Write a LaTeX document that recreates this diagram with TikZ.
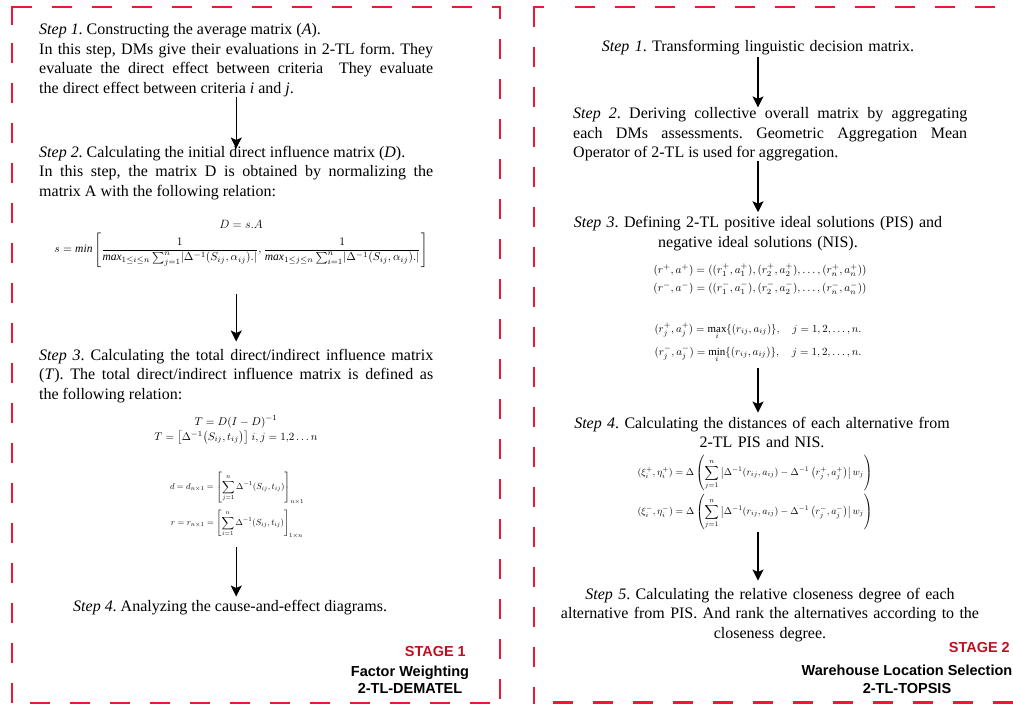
\documentclass[tikz,border=0pt]{standalone}
\usepackage{amsmath}
\usepackage{graphicx}
\usepackage{fontspec}
\setmainfont{Liberation Serif}
\setsansfont{Liberation Sans}
\usetikzlibrary{arrows.meta}
\definecolor{framered}{RGB}{236,24,52}
\definecolor{stagered}{RGB}{192,16,32}
\frenchspacing
\begin{document}
\begin{tikzpicture}[x=1pt,y=-1pt,
  txt/.style={inner sep=0pt, font=\fontsize{16}{19.5}\selectfont, text width=394pt, align=justify},
  ctxt/.style={inner sep=0pt, font=\fontsize{16}{19.5}\selectfont, text width=440pt, align=center},
  ltxt/.style={inner sep=0pt, font=\fontsize{16}{19.5}\selectfont},
  eq/.style={inner sep=0pt},
  flow/.style={-{Stealth[length=11pt,width=11pt,inset=2.5pt]}, line width=1.1pt},
  frame/.style={draw=framered, line width=2.8pt},
  dashes/.style={dash pattern=on 20pt off 20pt},
  stagelbl/.style={inner sep=0pt, font=\sffamily\bfseries\fontsize{14.5}{17}\selectfont, text=stagered},
  sublbl/.style={inner sep=0pt, font=\sffamily\bfseries\fontsize{14.5}{17}\selectfont}
]
\useasboundingbox (0,0) rectangle (1013,704);

% ---------- frames ----------
% left box
\draw[frame] (12,25) -- (12,7) -- (32,7);
\draw[frame,dashes] (52,7) -- (500,7) -- (500,703);
\draw[frame,dashes] (490,703) -- (12,703);
\draw[frame,dashes] (12,703) -- (12,27);
% right box
\draw[frame] (534,27) -- (534,7) -- (544,7);
\draw[frame,dashes] (575,7) -- (1020,7);
\draw[frame,dashes] (534,47) -- (534,704);
\draw[frame,dashes] (553,702.5) -- (1020,702.5);

% ---------- left panel ----------
\node[txt, anchor=base west] (l1) at (39,34.5) {\textit{Step 1}. Constructing the average matrix (\textit{A}).\\
In this step, DMs give their evaluations in 2-TL form. They\linebreak evaluate the direct effect between criteria~ They evaluate\linebreak the direct effect between criteria \textit{i} and \textit{j}.};

\node[txt, anchor=base west] (l2) at (39,157) {\textit{Step 2}. Calculating the initial direct influence matrix (\textit{D}).\\
In this step, the matrix D is obtained by normalizing the\linebreak matrix A with the following relation:};

\node[eq, anchor=base] (eqD) at (241,228) {\fontsize{12}{14}\selectfont $D = s.A$};
\node[eq] (eqs) at (241,250) {\resizebox{373pt}{!}{$\displaystyle s = \mathit{min}\left[\frac{1}{\mathit{max}_{1\le i\le n}\sum_{j=1}^{n}\lvert\Delta^{-1}(S_{ij},\alpha_{ij}).\rvert},\frac{1}{\mathit{max}_{1\le j\le n}\sum_{i=1}^{n}\lvert\Delta^{-1}(S_{ij},\alpha_{ij}).\rvert}\right]$}};

\node[txt, anchor=base west] (l3) at (39,360) {\textit{Step 3}. Calculating the total direct/indirect influence matrix\linebreak (\textit{T}). The total direct/indirect influence matrix is defined as\linebreak the following relation:};

\node[eq, anchor=base] (eqT1) at (236,425) {\resizebox{83pt}{!}{$T = D(I-D)^{-1}$}};
\node[eq, anchor=base] (eqT2) at (236,440) {\resizebox{163pt}{!}{$T = \bigl[\Delta^{-1}\bigl(S_{ij},t_{ij}\bigr)\bigr]\; i,j = 1{,}2\ldots n$}};

\node[eq] (eqd) at (237,488) {\resizebox{134pt}{!}{$\displaystyle d = d_{n\times 1} = \left[\sum_{j=1}^{n}\Delta^{-1}(S_{ij},t_{ij})\right]_{n\times 1}$}};
\node[eq] (eqr) at (237,524) {\resizebox{132pt}{!}{$\displaystyle r = r_{n\times 1} = \left[\sum_{i=1}^{n}\Delta^{-1}(S_{ij},t_{ij})\right]_{1\times n}$}};

\node[ltxt, anchor=base west] (l4) at (73,611.7) {\textit{Step 4}. Analyzing the cause-and-effect diagrams.};

\draw[flow, shorten >=-3pt] (l1.south) -- (l2.north);
\draw[flow, shorten <=27pt, shorten >=7pt] (l3.north |- eqs.south) -- (l3.north);
\draw[flow, shorten <=9pt, shorten >=3.7pt] (l3.south |- eqr.south) -- (l3.south |- l4.north);

\node[stagelbl, anchor=base east] (st1) at (466,656) {STAGE 1};
\node[sublbl, anchor=base] (fw) at (410,676) {Factor Weighting};
\node[sublbl, anchor=base] (dem) at (410,693) {2-TL-DEMATEL};

% ---------- right panel ----------
\node[ctxt, anchor=base] (r1) at (758,51) {\textit{Step 1}. Transforming linguistic decision matrix.};

\node[txt, anchor=base west] (r2) at (573,118.7) {\textit{Step 2}. Deriving collective overall matrix by aggregating\linebreak each DMs assessments. Geometric Aggregation Mean\linebreak Operator of 2-TL is used for aggregation.};

\node[ctxt, anchor=base] (r3) at (758,227.7) {\textit{Step 3}. Defining 2-TL positive ideal solutions (PIS) and\\ negative ideal solutions (NIS).};

\node[eq] (rp) at (760,270) {\resizebox{213pt}{!}{$(r^+,a^+) = ((r_1^+,a_1^+),(r_2^+,a_2^+),\ldots,(r_n^+,a_n^+))$}};
\node[eq] (rm) at (760,288) {\resizebox{213pt}{!}{$(r^-,a^-) = ((r_1^-,a_1^-),(r_2^-,a_2^-),\ldots,(r_n^-,a_n^-))$}};

\node[eq, anchor=base] (mx) at (758,332) {\resizebox{207pt}{!}{$(r_j^+,a_j^+) = \max\limits_{i}\{(r_{ij},a_{ij})\},\quad j=1,2,\ldots,n.$}};
\node[eq, anchor=base] (mn) at (758,355) {\resizebox{207pt}{!}{$(r_j^-,a_j^-) = \min\limits_{i}\{(r_{ij},a_{ij})\},\quad j=1,2,\ldots,n.$}};

\node[ctxt, anchor=base] (r4) at (762,428) {\textit{Step 4}. Calculating the distances of each alternative from\\ 2-TL PIS and NIS.};

\node[eq] (xp) at (755,473) {\resizebox{235pt}{!}{$\displaystyle(\xi_i^+,\eta_i^+) = \Delta\left(\sum_{j=1}^{n}\left|\Delta^{-1}(r_{ij},a_{ij}) - \Delta^{-1}\left(r_j^+,a_j^+\right)\right| w_j\right)$}};
\node[eq] (xm) at (755,512) {\resizebox{235pt}{!}{$\displaystyle(\xi_i^-,\eta_i^-) = \Delta\left(\sum_{j=1}^{n}\left|\Delta^{-1}(r_{ij},a_{ij}) - \Delta^{-1}\left(r_j^-,a_j^-\right)\right| w_j\right)$}};

\node[ctxt, anchor=base] (r5) at (770,599) {\textit{Step 5}. Calculating the relative closeness degree of each\\ alternative from PIS. And rank the alternatives according to the\\ closeness degree.};

\draw[flow, shorten <=2.5pt] (r1.south) -- (r1.south |- r2.north);
\draw[flow, shorten >=4pt] (r1.south |- r2.south) -- (r1.south |- r3.north);
\draw[flow, shorten <=5pt, shorten >=4pt] (r1.south |- mn.south) -- (r1.south |- r4.north);
\draw[flow, shorten <=2pt, shorten >=7pt] (r1.south |- xm.south) -- (r1.south |- r5.north);

\node[stagelbl, anchor=base east] (st2) at (1010,652) {STAGE 2};
\node[sublbl, anchor=base] (wls) at (907,675) {Warehouse Location Selection};
\node[sublbl, anchor=base] (top) at (907,693) {2-TL-TOPSIS};
\end{tikzpicture}
\end{document}
